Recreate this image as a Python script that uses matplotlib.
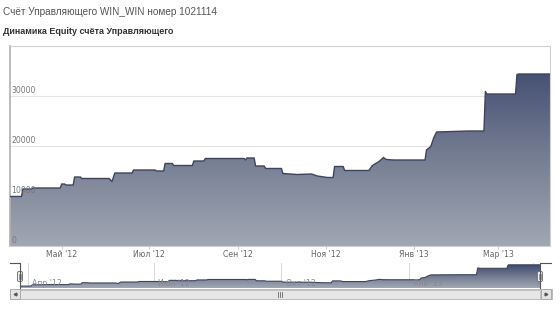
import matplotlib
matplotlib.use("Agg")
import matplotlib.pyplot as plt
import matplotlib.dates as mdates
from matplotlib.colors import LinearSegmentedColormap
from matplotlib.patches import Rectangle, FancyBboxPatch
import numpy as np
import pandas as pd

# ---------------- data ----------------
dates = [
    "2012-03-26", "2012-04-03", "2012-04-04", "2012-04-10", "2012-04-11",
    "2012-04-30", "2012-05-01", "2012-05-03", "2012-05-04", "2012-05-09",
    "2012-05-10", "2012-05-14", "2012-05-15", "2012-06-03", "2012-06-05",
    "2012-06-07", "2012-06-19", "2012-06-20", "2012-07-05", "2012-07-06",
    "2012-07-11", "2012-07-12", "2012-07-17", "2012-07-18", "2012-07-31",
    "2012-08-01", "2012-08-08", "2012-08-09", "2012-09-05", "2012-09-06",
    "2012-09-07", "2012-09-12", "2012-09-13", "2012-09-19", "2012-09-20",
    "2012-10-01", "2012-10-02", "2012-10-12", "2012-10-22", "2012-10-26",
    "2012-11-02", "2012-11-06", "2012-11-07", "2012-11-13", "2012-11-14",
    "2012-12-01", "2012-12-03", "2012-12-05", "2012-12-08", "2012-12-11",
    "2012-12-13", "2012-12-18", "2013-01-09", "2013-01-10", "2013-01-13",
    "2013-01-15", "2013-01-17", "2013-02-08", "2013-02-19", "2013-02-20",
    "2013-02-21", "2013-03-13", "2013-03-14", "2013-03-15", "2013-04-06",
]
equity = [
    9900, 9900, 11400, 11400, 11600,
    11600, 12400, 12400, 12200, 12200,
    13800, 13800, 13500, 13500, 12900,
    14600, 14600, 15200, 15200, 15000,
    15000, 16500, 16500, 16100, 16100,
    17000, 17000, 17500, 17500, 17200,
    17600, 17600, 16000, 16000, 15500,
    15500, 14500, 14300, 14400, 14000,
    13700, 13700, 15900, 15900, 15100,
    15100, 16000, 16400, 16900, 17700,
    17300, 17200, 17200, 19200, 19900,
    21600, 22800, 23000, 23000, 30900,
    30400, 30400, 34300, 34400, 34400,
]
y_ticks = [0, 10000, 20000, 30000]
main_ticks = ["2012-05-01", "2012-07-01", "2012-09-01", "2012-11-01", "2013-01-01", "2013-03-01"]
main_labels = ["Май '12", "Июл '12", "Сен '12", "Ноя '12", "Янв '13", "Мар '13"]
nav_ticks = ["2012-04-01", "2012-07-01", "2012-10-01", "2013-01-01", "2013-04-01"]
nav_labels = ["Апр '12", "Июл '12", "Окт '12", "Янв '13", "Апр '13"]
title = "Счёт Управляющего WIN_WIN номер 1021114"
subtitle = "Динамика Equity счёта Управляющего"

x = mdates.date2num(pd.to_datetime(dates))
yv = np.array(equity, dtype=float)
x0, x1 = x[0], x[-1]

W, H = 560, 309
fig = plt.figure(figsize=(W / 100, H / 100), dpi=100)
fig.patch.set_facecolor("white")

def fx(px):
    return px / W

def fy(py):
    return 1 - py / H

cmap = LinearSegmentedColormap.from_list("g", ["#a1a7b3", "#6f788e", "#37436a"])

def grad_fill(ax, xs, ys, ylo, yhi, lw, lc):
    poly = ax.fill_between(xs, ylo, ys, color="none", lw=0)
    grad = np.linspace(0, 1, 256).reshape(-1, 1)
    im = ax.imshow(grad, aspect="auto", cmap=cmap, origin="lower",
                   extent=[xs[0], xs[-1], ylo, yhi], zorder=2)
    path = poly.get_paths()[0]
    im.set_clip_path(path, transform=ax.transData)
    ax.plot(xs, ys, color=lc, lw=lw, zorder=3, solid_joinstyle="round")

# ---------------- main chart ----------------
ax = fig.add_axes([fx(10), fy(246), fx(540), 200 / H])
ax.set_xlim(x0, x1)
ax.set_ylim(0, 40000)
grad_fill(ax, x, yv, 0, 40000, 1.0, "#3a4566")
for t in y_ticks[1:]:
    ax.axhline(t, color="#e3e3e3", lw=0.8, zorder=1)
for s in ["top", "right", "bottom"]:
    ax.spines[s].set_color("#d0d0d0")
    ax.spines[s].set_linewidth(0.8)
ax.spines["left"].set_color("#b0b0b0")
ax.spines["left"].set_linewidth(1.2)
ax.set_yticks([])
for t in y_ticks:
    ax.text(x0 + 0.8, t + 150, str(t), fontsize=5.6, color="#777777",
            ha="left", va="bottom", zorder=4, family="DejaVu Sans")
mt = mdates.date2num(pd.to_datetime(main_ticks))
ax.set_xticks(mt)
ax.set_xticklabels(main_labels, fontsize=5.6, color="#666666", family="DejaVu Sans")
ax.tick_params(axis="x", length=2, width=0.6, color="#c0c0c0", pad=1.2)

# ---------------- navigator ----------------
nav = fig.add_axes([fx(20), fy(288), fx(520), 25 / H])
nav.set_xlim(x0, x1)
nav.set_ylim(7700, 36500)
grad_fill(nav, x, yv, 7700, 36500, 0.8, "#3a4566")
for s in nav.spines.values():
    s.set_visible(False)
nav.set_xticks([])
nav.set_yticks([])
nt = mdates.date2num(pd.to_datetime(nav_ticks))
for t, lab in zip(nt, nav_labels):
    nav.axvline(t, color="#d8d8d8", lw=0.7, zorder=1)
    nav.text(t + 3, 7900, lab, fontsize=5.6, color="#8a8a8a", ha="left",
             va="bottom", zorder=4, family="DejaVu Sans", clip_on=True)

# overlay axes in pixel coordinates for outline, handles, scrollbar
ov = fig.add_axes([0, 0, 1, 1])
ov.set_xlim(0, W)
ov.set_ylim(H, 0)
ov.axis("off")
ov.patch.set_alpha(0)
ov.plot([10, 20, 20], [263, 263, 288], color="#555555", lw=0.8)
ov.plot([540, 540, 551], [288, 263, 263], color="#555555", lw=0.8)
for hx in (20, 540):
    ov.add_patch(FancyBboxPatch((hx - 2.5, 271.5), 5, 10,
                                boxstyle="round,pad=0,rounding_size=1.5",
                                fc="#f2f2f2", ec="#777777", lw=0.7))
    ov.plot([hx - 0.8, hx - 0.8], [274, 279], color="#777777", lw=0.5)
    ov.plot([hx + 0.8, hx + 0.8], [274, 279], color="#777777", lw=0.5)
# scrollbar
ov.add_patch(Rectangle((10, 289), 542, 10, fc="#eeeeee", ec="#bbbbbb", lw=0.7))
ov.add_patch(Rectangle((20, 289.5), 520, 9, fc="#e6e6e6", ec="#bbbbbb", lw=0.6))
ov.add_patch(Rectangle((10, 289), 10, 10, fc="#e4e4e4", ec="#aaaaaa", lw=0.7))
ov.add_patch(Rectangle((541, 289), 10, 10, fc="#e4e4e4", ec="#aaaaaa", lw=0.7))
ov.plot([14.5], [294], marker="<", ms=2, color="#555555")
ov.plot([546], [294], marker=">", ms=2, color="#555555")
for gx in (278, 280, 282):
    ov.plot([gx, gx], [292, 296.5], color="#666666", lw=0.6)

# ---------------- titles ----------------
fig.text(fx(3), fy(12), title, fontsize=7.2, color="#555555", ha="left",
         va="center", family="Liberation Sans")
fig.text(fx(3), fy(31), subtitle, fontsize=6.5, color="#333333", ha="left",
         va="center", weight="bold", family="Liberation Sans")

fig.savefig("out.png", dpi=100, facecolor="white")
